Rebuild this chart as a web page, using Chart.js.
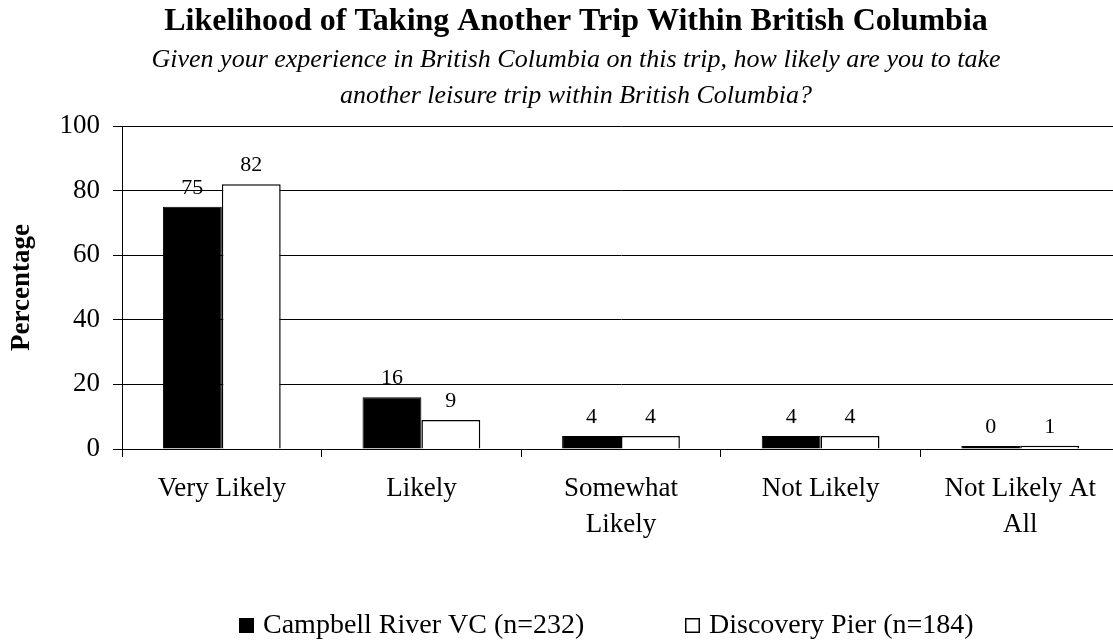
<!DOCTYPE html>
<html>
<head>
<meta charset="utf-8">
<title>Likelihood of Taking Another Trip Within British Columbia</title>
<script src="https://cdn.jsdelivr.net/npm/chart.js@4.4.0/dist/chart.umd.min.js"></script>
<style>
    html, body { margin: 0; padding: 0; background: #fff; overflow: hidden; }
</style>
</head>
<body>
<canvas id="trip-chart" width="1152" height="642"></canvas>
<script>
const categories = [["Very Likely"], ["Likely"], ["Somewhat", "Likely"], ["Not Likely"], ["Not Likely At", "All"]];
const campbellRiver = [75, 16, 4, 4, 0];
const discoveryPier = [82, 9, 4, 4, 1];
const seriesNames = ["Campbell River VC (n=232)", "Discovery Pier (n=184)"];
const yTicks = [0, 20, 40, 60, 80, 100];

const serif = "'Liberation Serif', 'Times New Roman', serif";
Chart.defaults.font.family = serif;
Chart.defaults.color = "#000";

// numbers printed above each bar
const valueLabels = {
    id: "valueLabels",
    afterDatasetsDraw(chart) {
        let ctx = chart.ctx;
        ctx.save();
        ctx.font = "22px " + serif;
        ctx.fillStyle = "#000";
        ctx.textAlign = "center";
        ctx.textBaseline = "alphabetic";
        chart.data.datasets.forEach(function (ds, i) {
            chart.getDatasetMeta(i).data.forEach(function (bar, j) {
                ctx.fillText(ds.data[j], bar.x, bar.y - 13);
            });
        });
        ctx.restore();
    }
};

// legend row under the axis: square swatch + series name
const bottomLegend = {
    id: "bottomLegend",
    afterDraw(chart, args, opts) {
        let ctx = chart.ctx;
        ctx.save();
        ctx.font = opts.size + "px " + serif;
        ctx.textAlign = "left";
        ctx.textBaseline = "alphabetic";
        chart.data.datasets.forEach(function (ds, i) {
            let x = opts.x[i];
            ctx.fillStyle = ds.backgroundColor;
            ctx.fillRect(x, opts.y - opts.box, opts.box, opts.box);
            ctx.strokeStyle = "#000";
            ctx.lineWidth = 1.5;
            ctx.strokeRect(x + 0.75, opts.y - opts.box + 0.75, opts.box - 1.5, opts.box - 1.5);
            ctx.fillStyle = "#000";
            ctx.fillText(ds.label, x + opts.box + 9, opts.y);
        });
        ctx.restore();
    }
};

let ctx = document.getElementById("trip-chart");

new Chart(ctx, {
    type: "bar",
    data: {
        labels: categories,
        datasets: [{
            label: seriesNames[0],
            data: campbellRiver,
            backgroundColor: "#000",
            borderColor: "#000",
            borderWidth: 1,
            minBarLength: 3
        }, {
            label: seriesNames[1],
            data: discoveryPier,
            backgroundColor: "#fff",
            borderColor: "#000",
            borderWidth: 1.5
        }]
    },
    options: {
        responsive: false,
        animation: false,
        events: [],
        datasets: {
            bar: { categoryPercentage: 0.59, barPercentage: 1.0 }
        },
        layout: { padding: { left: 0, right: 0, top: 0, bottom: 83 } },
        plugins: {
            legend: { display: false },
            tooltip: { enabled: false },
            title: {
                display: true,
                text: "Likelihood of Taking Another Trip Within British Columbia",
                font: { size: 32, weight: "bold", lineHeight: 1.2 },
                color: "#000",
                padding: { top: 3, bottom: 0 }
            },
            subtitle: {
                display: true,
                text: ["Given your experience in British Columbia on this trip, how likely are you to take",
                       "another leisure trip within British Columbia?"],
                font: { size: 26, style: "italic", lineHeight: 36 / 26 },
                color: "#000",
                padding: { top: 1, bottom: 11.6 }
            },
            bottomLegend: { x: [239, 685], y: 633, box: 15, size: 28 }
        },
        scales: {
            x: {
                afterFit: function (s) { s.height = 110; },
                grid: {
                    display: true,
                    drawOnChartArea: false,
                    drawTicks: true,
                    tickLength: 8,
                    color: "#000",
                    offset: true
                },
                border: { display: true, color: "#000", width: 1 },
                ticks: {
                    font: { size: 27, lineHeight: 36 / 27 },
                    padding: 14,
                    maxRotation: 0,
                    autoSkip: false,
                    color: "#000"
                }
            },
            y: {
                min: 0,
                max: 100,
                afterBuildTicks: function (s) {
                    s.ticks = yTicks.map(function (v) { return { value: v }; });
                },
                afterFit: function (s) { s.width = 122; },
                grid: { color: "#000", lineWidth: 1, tickLength: 9, drawTicks: true },
                border: { display: true, color: "#000", width: 1 },
                ticks: { font: { size: 27 }, padding: 13, color: "#000" },
                title: {
                    display: true,
                    text: "Percentage",
                    font: { size: 27, weight: "bold", lineHeight: 1.2 },
                    color: "#000",
                    padding: { top: 6, bottom: 0 }
                }
            },
            // empty strip on the right so the plot stops short of the canvas edge
            yRight: {
                position: "right",
                min: 0,
                max: 100,
                afterFit: function (s) { s.width = 32; },
                grid: { display: false, drawTicks: false },
                border: { display: false },
                ticks: { display: false }
            }
        }
    },
    plugins: [valueLabels, bottomLegend]
});
</script>
</body>
</html>
